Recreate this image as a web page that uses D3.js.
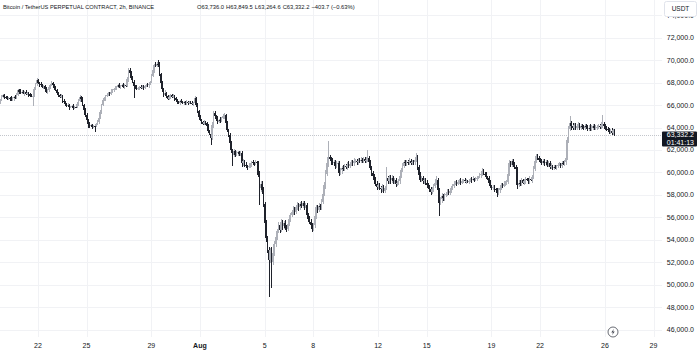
<!DOCTYPE html>
<html>
<head>
<meta charset="utf-8">
<script src="https://cdn.jsdelivr.net/npm/d3@7"></script>
<style>
  body { margin: 0; background: #fff; }
  svg { display: block; font-family: "Liberation Sans", Arial, sans-serif; }
</style>
</head>
<body>
<div id="chart"></div>
<script>
// BTCUSDT perpetual, 2h candles, first candle Jul 19 16:00 UTC
const firstCandle = Date.UTC(2024, 6, 19, 16);
const stepMs = 2 * 3600 * 1000;
const firstOpen = 66.3;

// closes in thousand USDT, one row = 12 candles (one day)
const closes = [
  66.45, 66.7, 66.9, 66.75, 66.6, 66.55, 66.65, 66.6, 66.5, 66.6, 66.7, 66.6,
  66.9, 67.35, 67.2, 67.1, 67.2, 67.05, 67.15, 67.0, 67.1, 66.95, 66.85, 66.8,
  66.8, 67.4, 67.9, 68.23, 68.0, 67.85, 67.8, 67.6, 67.7, 67.4, 67.15, 67.3,
  67.6, 67.8, 67.97, 67.75, 67.5, 67.35, 67.1, 66.9, 66.7, 66.8, 66.4, 66.25,
  66.1, 65.9, 66.0, 65.8, 65.83, 65.9, 65.75, 65.85, 65.83, 66.1, 66.4, 66.7,
  66.5, 66.0, 65.6, 65.1, 64.68, 64.3, 64.14, 64.2, 64.05, 64.15, 64.14, 64.3,
  64.5, 64.85, 65.4, 66.0, 66.45, 66.6, 66.8, 66.9, 67.1, 67.0, 67.2, 67.3,
  67.45, 67.5, 67.6, 67.75, 67.6, 67.7, 67.8, 67.65, 67.75, 67.7, 68.3, 69.1,
  68.9, 68.4, 68.1, 67.7, 67.6, 67.4, 67.5, 67.6, 67.5, 67.65, 67.55, 67.7,
  67.8, 67.75, 67.9, 68.05, 68.6, 69.1, 69.6, 69.45, 69.7, 69.6, 68.8, 67.97,
  67.4, 66.9, 67.1, 66.8, 66.54, 66.7, 66.9, 66.75, 66.8, 66.6, 66.45, 66.3,
  66.2, 66.35, 66.25, 66.2, 66.3, 66.15, 66.25, 66.2, 66.3, 66.2, 66.1, 66.2,
  66.6, 66.0, 65.5, 64.94, 64.7, 64.5, 64.3, 64.45, 64.4, 64.1, 63.7, 63.4,
  63.07, 64.2, 65.3, 65.0, 64.8, 64.5, 64.7, 64.6, 64.85, 65.0, 65.1, 64.4,
  63.8, 63.34, 62.6, 62.0, 61.55, 61.9, 61.6, 61.7, 61.8, 61.65, 61.7, 60.8,
  61.0, 60.7, 60.6, 60.46, 60.6, 60.7, 60.9, 60.8, 60.75, 60.9, 60.8, 59.8,
  58.6, 59.0, 58.4, 57.2, 55.5, 54.15, 53.1, 52.2, 53.1, 52.03, 52.8, 53.6,
  54.25, 54.8, 55.3, 54.9, 55.6, 55.2, 55.5, 55.1, 55.0, 55.4, 55.9, 56.2,
  56.45, 56.7, 56.5, 56.9, 57.1, 56.9, 57.2, 57.05, 57.3, 57.0, 57.1, 56.2,
  55.9, 55.6, 55.3, 55.0, 55.3, 56.1, 56.9, 56.7, 57.0, 56.9, 57.4, 58.1,
  58.87, 59.9, 60.8, 61.37, 61.2, 61.0, 60.83, 60.9, 60.6, 60.75, 60.83, 59.95,
  60.2, 60.4, 60.3, 60.57, 60.5, 60.7, 60.6, 60.75, 60.9, 60.8, 61.0, 61.0,
  60.9, 61.05, 61.0, 61.1, 61.0, 61.2, 61.0, 61.15, 61.3, 60.9, 60.4, 59.95,
  59.7, 59.3, 59.0, 58.7, 58.9, 58.6, 58.5, 58.7, 58.34, 58.6, 59.5, 59.2,
  59.6, 59.3, 59.5, 59.2, 59.3, 59.0, 59.06, 59.2, 59.7, 60.2, 60.6, 60.9,
  60.8, 60.95, 60.9, 61.0, 60.85, 60.95, 60.9, 61.1, 61.37, 60.5, 59.8, 59.32,
  59.5, 59.2, 59.3, 59.06, 58.9, 58.7, 58.5, 58.26, 58.5, 58.8, 59.1, 59.32,
  58.4, 57.28, 57.6, 57.9, 57.7, 57.98, 58.1, 58.3, 58.2, 58.34, 58.6, 58.8,
  59.0, 59.15, 59.0, 59.15, 59.3, 59.1, 59.23, 59.3, 59.2, 59.25, 59.15, 59.23,
  59.4, 59.3, 59.45, 59.35, 59.4, 59.5, 59.6, 59.75, 59.9, 60.12, 59.9, 59.8,
  59.6, 59.5, 59.1, 58.8, 58.6, 58.7, 58.5, 58.43, 58.16, 58.4, 58.6, 58.9,
  58.8, 59.0, 59.1, 59.15, 59.9, 60.83, 60.7, 61.0, 60.7, 60.5, 60.3, 58.87,
  59.1, 59.0, 59.32, 59.1, 59.2, 59.4, 59.32, 59.2, 59.45, 59.3, 59.6, 60.3,
  61.0, 61.46, 61.3, 61.1, 61.0, 60.83, 61.0, 60.8, 60.9, 60.7, 60.8, 60.5,
  60.6, 60.38, 60.5, 60.45, 60.6, 60.65, 60.7, 60.6, 60.8, 60.75, 60.9, 61.3,
  62.9, 63.87, 64.41, 64.1, 63.96, 64.2, 64.0, 64.14, 64.2, 64.0, 64.1, 64.05,
  63.95, 64.1, 64.05, 63.9, 64.0, 63.87, 64.0, 64.1, 63.95, 64.0, 64.05, 64.1,
  64.05, 64.2, 64.32, 64.1, 63.95, 63.87, 63.8, 63.6, 63.7, 63.5, 63.74, 63.33
];

// upper / lower wick beyond the body, in 100 USDT
const wickUp = [
  1,2,1,1,1,2,1,1,2,1,1,2,  2,1,1,2,1,1,1,2,1,1,1,1,  1,2,1,2,1,1,2,1,1,1,2,1,
  1,1,2,1,1,2,1,1,1,2,1,1,  1,1,2,1,1,1,2,1,1,2,1,2,  1,2,1,1,2,1,2,1,1,1,2,1,
  2,1,2,1,2,1,1,2,1,1,2,1,  1,2,1,1,2,1,1,2,1,1,2,2,  2,1,2,1,1,2,1,1,2,1,1,1,
  1,2,1,1,2,2,1,2,1,3,2,1,  2,1,2,1,1,2,1,1,2,1,1,1,  1,1,2,1,1,1,2,1,1,1,2,1,
  2,1,2,1,2,1,1,2,1,1,2,1,  2,3,2,2,1,2,1,2,1,2,2,1,  2,1,2,2,1,2,1,2,1,1,2,2,
  2,1,2,1,2,1,1,2,1,2,1,2,  3,2,2,3,2,3,2,3,2,3,2,3,  3,2,3,2,3,2,2,3,2,2,3,2,
  2,3,2,2,3,2,2,3,2,2,2,2,  2,2,3,2,2,3,2,2,3,2,2,3,  3,3,2,14,2,2,3,2,2,3,2,2,
  2,2,3,2,2,2,3,2,2,2,3,2,  2,2,2,3,2,2,2,2,7,2,2,2,  2,2,3,2,2,2,2,3,2,2,10,2,
  2,2,3,2,2,2,2,2,3,2,2,2,  2,2,2,3,2,2,2,2,4,2,2,2,  2,2,2,2,3,2,2,2,2,2,3,4,
  2,2,2,3,2,2,2,2,2,3,2,2,  2,1,2,2,1,2,2,1,2,2,1,2,  1,2,2,1,2,2,1,2,2,3,2,1,
  2,1,2,2,1,2,2,1,2,2,1,2,  2,2,1,2,3,3,2,2,2,2,2,2,  2,2,2,1,2,2,1,2,2,1,2,3,
  3,2,2,2,2,2,2,2,2,2,2,2,  2,1,2,2,1,2,2,1,2,2,2,3,  3,3,6,2,3,2,2,2,3,2,2,2,
  2,2,2,2,2,3,2,2,2,2,2,2,  2,3,8,2,2,2,2,2,2,3,1,1
];
const wickDown = [
  2,1,1,2,1,1,1,2,1,1,2,1,  1,1,2,1,1,1,2,1,1,2,1,1,  9,1,1,2,1,2,1,1,2,1,1,2,
  1,2,1,1,2,1,1,2,1,1,2,1,  2,1,1,2,1,1,2,1,1,1,2,1,  2,1,2,2,2,3,2,1,2,1,5,1,
  1,2,1,2,1,1,2,1,1,2,1,1,  1,1,2,1,1,2,1,1,2,1,1,2,  2,2,1,11,2,1,1,2,1,1,2,1,
  1,1,2,1,1,1,2,1,1,2,2,2,  2,2,1,2,1,1,2,1,1,2,1,2,  1,2,1,1,2,1,1,2,1,1,1,2,
  1,2,2,2,1,2,1,1,2,2,2,1,  6,2,2,1,2,2,1,2,1,1,2,2,  2,2,2,3,10,2,2,1,2,2,2,3,
  2,2,2,2,1,2,2,1,2,1,2,2,  15,3,3,3,4,3,3,33,3,23,3,2,  2,3,2,3,2,3,2,2,3,2,2,3,
  2,2,3,2,2,3,2,2,2,3,2,2,  3,2,3,3,2,2,2,3,2,2,2,2,  2,3,2,3,2,3,2,2,3,2,2,3,
  2,3,2,2,2,3,2,2,2,2,2,2,  2,2,2,2,2,2,2,2,2,3,2,3,  2,3,2,3,2,2,3,2,2,2,2,2,
  2,3,2,2,2,3,2,2,2,2,2,2,  2,2,2,2,2,2,2,2,2,3,3,2,  2,2,2,2,3,2,2,3,2,2,2,2,
  3,12,2,3,2,2,2,2,2,2,2,2,  2,1,2,1,2,2,1,2,1,2,1,2,  1,2,1,2,1,2,1,1,2,2,1,2,
  2,2,2,2,2,2,2,2,3,2,2,2,  2,1,2,2,2,2,2,2,2,2,2,3,  2,2,2,1,2,2,1,2,2,1,2,2,
  2,2,2,2,2,2,2,2,2,2,2,2,  2,2,2,1,2,2,1,2,2,1,2,2,  2,3,2,3,2,2,2,2,2,2,2,2,
  2,2,2,2,2,2,2,2,2,2,2,2,  2,2,2,2,2,2,2,2,2,2,2,1
];

const priceTicks = [46000, 48000, 50000, 52000, 54000, 56000, 58000, 60000,
                    62000, 64000, 66000, 68000, 70000, 72000, 74000];
const dateTicks = [
  [Date.UTC(2024, 6, 22), "22"], [Date.UTC(2024, 6, 25), "25"], [Date.UTC(2024, 6, 29), "29"],
  [Date.UTC(2024, 7, 1), "Aug"], [Date.UTC(2024, 7, 5), "5"], [Date.UTC(2024, 7, 8), "8"],
  [Date.UTC(2024, 7, 12), "12"], [Date.UTC(2024, 7, 15), "15"], [Date.UTC(2024, 7, 19), "19"],
  [Date.UTC(2024, 7, 22), "22"], [Date.UTC(2024, 7, 26), "26"], [Date.UTC(2024, 7, 29), "29"]
];

const lastPrice = 63332.2;
const countdown = "01:41:13";
const titleText = "Bitcoin / TetherUS PERPETUAL CONTRACT, 2h, BINANCE";
const legendValues = ["O63,736.0", "H63,849.5", "L63,264.6", "C63,332.2", "\u2212403.7 (\u22120.63%)"];

// build OHLC
const candles = closes.map((c, i) => {
  const o = i === 0 ? firstOpen : closes[i - 1];
  return {
    t: new Date(firstCandle + i * stepMs),
    o: o * 1000,
    c: c * 1000,
    h: (Math.max(o, c) + wickUp[i] / 10) * 1000,
    l: (Math.min(o, c) - wickDown[i] / 10) * 1000
  };
});

const width = 699, height = 351;
const plotRight = 662;
const upColor = "#adb0b8", downColor = "#1f222b";
const gridColor = "#f1f2f5", textColor = "#131722";

const svg = d3.select("#chart").append("svg")
  .attr("width", width)
  .attr("height", height);

const x = d3.scaleUtc()
  .domain([new Date(Date.UTC(2024, 6, 22)), new Date(Date.UTC(2024, 7, 29))])
  .range([37.9, 653.5]);

const y = d3.scaleLinear()
  .domain([46000, 72000])
  .range([329.7, 37.7]);

// grid
svg.append("g").selectAll("line")
  .data(priceTicks)
  .join("line")
  .attr("x1", 0).attr("x2", plotRight)
  .attr("y1", d => Math.round(y(d)) + 0.5).attr("y2", d => Math.round(y(d)) + 0.5)
  .attr("stroke", gridColor);

svg.append("g").selectAll("line")
  .data(dateTicks)
  .join("line")
  .attr("x1", d => Math.round(x(d[0])) + 0.5).attr("x2", d => Math.round(x(d[0])) + 0.5)
  .attr("y1", 0).attr("y2", 337)
  .attr("stroke", gridColor);

// last price line
svg.append("line")
  .attr("x1", 0).attr("x2", plotRight)
  .attr("y1", Math.round(y(lastPrice)) + 0.5).attr("y2", Math.round(y(lastPrice)) + 0.5)
  .attr("stroke", "#c3c6cc")
  .attr("stroke-dasharray", "1,1");

// candles
const cg = svg.append("g").attr("shape-rendering", "crispEdges");
cg.selectAll("rect.wick")
  .data(candles)
  .join("rect")
  .attr("class", "wick")
  .attr("x", d => Math.round(x(d.t)))
  .attr("width", 1)
  .attr("y", d => y(d.h))
  .attr("height", d => Math.max(1, y(d.l) - y(d.h)))
  .attr("fill", d => d.c >= d.o ? upColor : downColor);

cg.selectAll("rect.body")
  .data(candles)
  .join("rect")
  .attr("class", "body")
  .attr("x", d => x(d.t) - 0.7)
  .attr("width", 1.4)
  .attr("y", d => y(Math.max(d.o, d.c)))
  .attr("height", d => Math.max(1, Math.abs(y(d.o) - y(d.c))))
  .attr("fill", d => d.c >= d.o ? upColor : downColor);

// price axis labels
svg.append("g").selectAll("text")
  .data(priceTicks)
  .join("text")
  .attr("x", 694)
  .attr("y", d => y(d))
  .attr("dy", "0.35em")
  .attr("text-anchor", "end")
  .attr("font-size", 7)
  .attr("fill", textColor)
  .text(d => d3.format(",.1f")(d));

// date axis labels
svg.append("g").selectAll("text")
  .data(dateTicks)
  .join("text")
  .attr("x", d => x(d[0]))
  .attr("y", 346)
  .attr("dy", "0.35em")
  .attr("text-anchor", "middle")
  .attr("font-size", 7)
  .attr("font-weight", d => d[1] === "Aug" ? "bold" : "normal")
  .attr("fill", textColor)
  .text(d => d[1]);

// USDT currency box (covers most of the 74,000 label)
svg.append("rect")
  .attr("x", 664.5).attr("y", 1.5).attr("width", 32).attr("height", 15)
  .attr("rx", 2)
  .attr("fill", "#fff").attr("stroke", "#e0e3eb");
svg.append("text")
  .attr("x", 680.5).attr("y", 8.5).attr("dy", "0.35em")
  .attr("text-anchor", "middle").attr("font-size", 6.5)
  .attr("fill", textColor).text("USDT");

// last price label
const ly = y(lastPrice);
svg.append("rect")
  .attr("x", 662).attr("y", ly - 3.5).attr("width", 35).attr("height", 15)
  .attr("rx", 1)
  .attr("fill", "#131722");
svg.append("text")
  .attr("x", 694).attr("y", ly).attr("dy", "0.35em")
  .attr("text-anchor", "end").attr("font-size", 7)
  .attr("fill", "#fff").text(d3.format(",.1f")(lastPrice));
svg.append("text")
  .attr("x", 694).attr("y", ly + 7.5).attr("dy", "0.35em")
  .attr("text-anchor", "end").attr("font-size", 7)
  .attr("fill", "#fff").text(countdown);

// legend / title
svg.append("text")
  .attr("x", 3).attr("y", 7)
  .attr("dy", "0.35em")
  .attr("font-size", 5.7)
  .attr("fill", textColor)
  .text(titleText);
const legend = svg.append("text")
  .attr("y", 7)
  .attr("dy", "0.35em")
  .attr("font-size", 5.8)
  .attr("fill", textColor);
legendValues.forEach((v, i) => {
  legend.append("tspan")
    .attr("x", i === 0 ? 197 : null)
    .attr("dx", i === 0 ? 0 : 2)
    .text(v);
});

// lightning badge
const badge = svg.append("g").attr("transform", "translate(613,332)");
badge.append("circle").attr("r", 5)
  .attr("fill", "#fff").attr("stroke", "#434651").attr("stroke-width", 0.8);
badge.append("path")
  .attr("d", "M0.9,-3.2 L-1.7,0.4 L0,0.4 L-0.9,3.2 L1.7,-0.6 L0,-0.6 Z")
  .attr("fill", "#434651");
</script>
</body>
</html>
